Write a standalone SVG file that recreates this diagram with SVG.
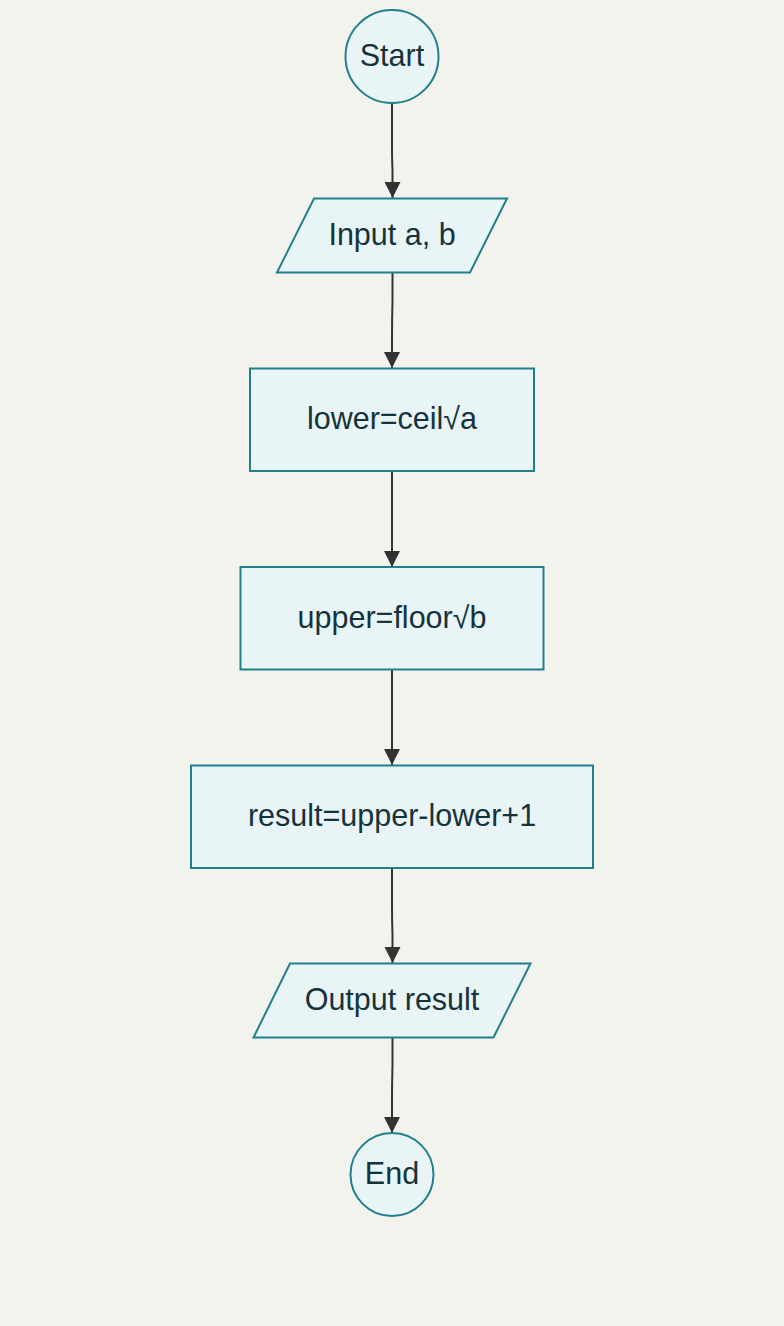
<svg xmlns="http://www.w3.org/2000/svg" width="784" height="1326" viewBox="0 0 784 1326">
<style>
.n{fill:#e8f4f6;stroke:#217f8c;stroke-width:2}
.t{font-family:"Liberation Sans",Arial,sans-serif;font-size:30.5px;fill:#15333b;text-anchor:middle}
.e{fill:none;stroke:#333;stroke-width:2}
</style>
<defs>
<marker id="ah" viewBox="0 0 16 16" refX="16" refY="8" markerWidth="16" markerHeight="16" markerUnits="userSpaceOnUse" orient="auto">
<path d="M0,0 L16,8 L0,16 z" fill="#333"/>
</marker>
</defs>
<rect width="784" height="1326" fill="#f3f3ee"/>
<g id="connectors">
<path class="e" d="M392,103 L392,145 Q392,160 392.5,170 L392.5,198" marker-end="url(#ah)"/>
<path class="e" d="M392.5,273 L392.5,300 Q392,320 392,340 L392,368" marker-end="url(#ah)"/>
<path class="e" d="M392,471 L392,567" marker-end="url(#ah)"/>
<path class="e" d="M392,669 L392,765" marker-end="url(#ah)"/>
<path class="e" d="M392,868 L392,905 Q392,920 392.5,935 L392.5,963" marker-end="url(#ah)"/>
<path class="e" d="M392.5,1038 L392.5,1065 Q392,1085 392,1100 L392,1133" marker-end="url(#ah)"/>
</g>
<g id="start">
<circle class="n" cx="392" cy="56.5" r="46.5"/>
<text class="t" x="392" y="66">Start</text>
</g>
<g id="input">
<polygon class="n" points="314,198.5 507,198.5 470,272.5 277,272.5"/>
<text class="t" x="392" y="245">Input a, b</text>
</g>
<g id="lower">
<rect class="n" x="250" y="368.5" width="284" height="102.5"/>
<text class="t" x="392" y="429">lower=ceil√a</text>
</g>
<g id="upper">
<rect class="n" x="240.5" y="567" width="303" height="102.5"/>
<text class="t" x="392" y="628">upper=floor√b</text>
</g>
<g id="result">
<rect class="n" x="191" y="765.5" width="402" height="102.5"/>
<text class="t" x="392" y="826">result=upper-lower+1</text>
</g>
<g id="output">
<polygon class="n" points="290,963.5 530.5,963.5 493.5,1037.5 253.5,1037.5"/>
<text class="t" x="392" y="1010">Output result</text>
</g>
<g id="end">
<circle class="n" cx="392" cy="1174.5" r="41.5"/>
<text class="t" x="392" y="1184">End</text>
</g>
</svg>
